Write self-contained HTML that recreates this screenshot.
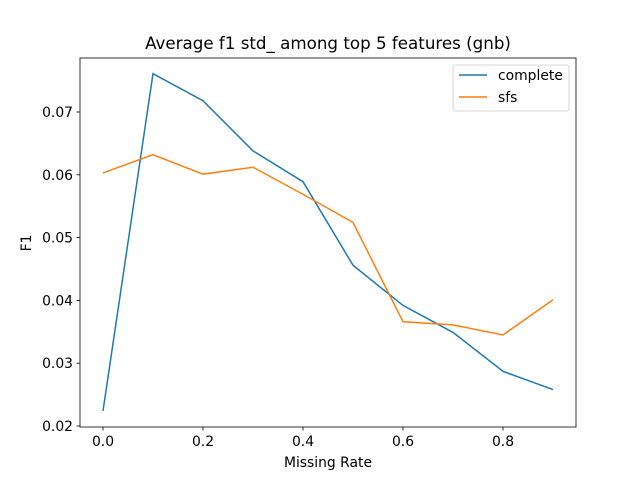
<!DOCTYPE html>
<html><head><meta charset="utf-8"><style>
body{margin:0;background:#fff;}
svg{display:block;font-family:"DejaVu Sans","Liberation Sans",sans-serif;}
</style></head><body>
<svg id="chart" width="640" height="480">
<rect width="640" height="480" fill="#fff"/>
<text x="328" y="49" font-size="16.7" text-anchor="middle">Average f1 std_ among top 5 features (gnb)</text>
<g id="ticks"></g>
<g id="lines"></g>
<rect x="80" y="58" width="496" height="369" fill="none" stroke="#000" stroke-width="0.8"/>
<text x="328" y="467" font-size="13.9" text-anchor="middle">Missing Rate</text>
<text x="31" y="243" font-size="13.9" text-anchor="middle" transform="rotate(-90 31 243)">F1</text>
<g>
<rect x="453" y="65" width="116" height="46" rx="2" fill="#fff" stroke="#ccc" stroke-width="0.8"/>
<g>
<line x1="459" y1="75" x2="487" y2="75" stroke="#1f77b4" stroke-width="1.5"/>
<text x="498" y="80" font-size="13.9">complete</text></g>
<g>
<line x1="459" y1="97" x2="487" y2="97" stroke="#ff7f0e" stroke-width="1.5"/>
<text x="498" y="102" font-size="13.9">sfs</text></g>
</g>
</svg>
<script>
const xValues=[0,0.1,0.2,0.3,0.4,0.5,0.6,0.7,0.8,0.9];
const complete=[0.0224,0.0761,0.0718,0.0638,0.0589,0.0456,0.0392,0.0349,0.0287,0.0258];
const sfs=[0.0603,0.0632,0.0601,0.0612,0.0569,0.0524,0.0366,0.0361,0.0345,0.0401];
const xTicks=[0.0,0.2,0.4,0.6,0.8];
const yTicks=[0.02,0.03,0.04,0.05,0.06,0.07];
const NS='http://www.w3.org/2000/svg';
function sx(v){return 103+v*500;}
function sy(v){return 426-(v-0.02)*6280;}
const tg=document.getElementById('ticks');
function mk(t,a,p){const e=document.createElementNS(NS,t);for(const k in a)e.setAttribute(k,a[k]);p.appendChild(e);return e;}
xTicks.forEach(v=>{
 const l=mk('line',{x1:sx(v),x2:sx(v),y1:427,y2:430.5,stroke:'#000','stroke-width':0.8},tg);
 
 
 const t=mk('text',{x:sx(v),y:446,'font-size':13.9,'text-anchor':'middle'},tg);t.textContent=v.toFixed(1);
 
 
});
yTicks.forEach(v=>{
 const l=mk('line',{x1:76.5,x2:80,y1:sy(v),y2:sy(v),stroke:'#000','stroke-width':0.8},tg);
 
 
 const t=mk('text',{x:73,y:sy(v)+5,'font-size':13.9,'text-anchor':'end'},tg);t.textContent=v.toFixed(2);
 
 
});
const lg=document.getElementById('lines');
[[complete,'#1f77b4','line-complete'],[sfs,'#ff7f0e','line-sfs']].forEach(([d,c,n])=>{
 const p=mk('polyline',{points:d.map((v,i)=>sx(xValues[i])+','+sy(v)).join(' '),fill:'none',stroke:c,'stroke-width':1.5},lg);
 
 
});
</script>
</body></html>
